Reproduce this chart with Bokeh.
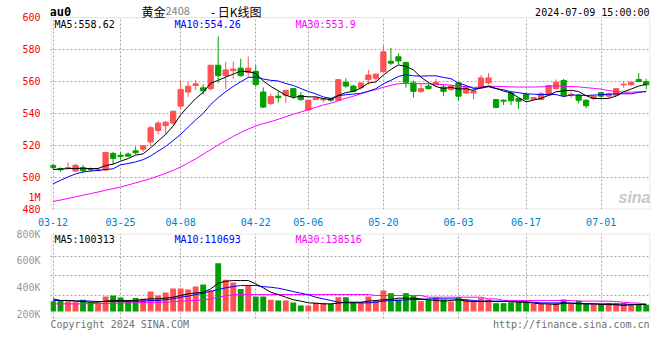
from bokeh.plotting import figure
from bokeh.layouts import column
from bokeh.models import Range1d, FixedTicker, Label, ColumnDataSource, BoxAnnotation
from bokeh.embed import file_html
from bokeh.resources import INLINE

# ---------------- data ----------------
dates = ["03-12", "03-13", "03-14", "03-15", "03-18", "03-19", "03-20", "03-21", "03-22", "03-25",
         "03-26", "03-27", "03-28", "03-29", "04-01", "04-02", "04-03", "04-08", "04-09", "04-10",
         "04-11", "04-12", "04-15", "04-16", "04-17", "04-18", "04-19", "04-22", "04-23", "04-24",
         "04-25", "04-26", "04-29", "04-30", "05-06", "05-07", "05-08", "05-09", "05-10", "05-13",
         "05-14", "05-15", "05-16", "05-17", "05-20", "05-21", "05-22", "05-23", "05-24", "05-27",
         "05-28", "05-29", "05-30", "05-31", "06-03", "06-04", "06-05", "06-06", "06-07", "06-11",
         "06-12", "06-13", "06-14", "06-17", "06-18", "06-19", "06-20", "06-21", "06-24", "06-25",
         "06-26", "06-27", "06-28", "07-01", "07-02", "07-03", "07-04", "07-05", "07-08", "07-09"]

opens = [507.4, 505.6, 505.8, 504.0, 506.0, 505.4, 504.4, 504.6, 515.0, 513.8,
         514.6, 516.6, 517.6, 522.2, 529.3, 532.3, 533.9, 544.5, 553.3, 557.4,
         555.9, 555.4, 570.0, 563.5, 566.6, 568.2, 565.5, 566.2, 553.3, 546.2,
         550.7, 551.3, 555.4, 551.1, 542.1, 548.6, 548.4, 549.2, 548.2, 559.4,
         557.0, 556.0, 561.0, 561.9, 566.0, 572.5, 575.3, 571.7, 559.0, 553.7,
         557.0, 557.8, 556.4, 554.9, 559.0, 552.7, 552.7, 555.8, 559.0, 548.6,
         548.2, 552.7, 549.2, 551.9, 548.8, 548.6, 551.3, 555.4, 560.5, 551.3,
         551.3, 548.2, 549.2, 552.9, 550.7, 551.3, 557.8, 557.8, 561.1, 559.8]
highs = [508.4, 506.2, 509.5, 508.4, 507.8, 506.2, 505.8, 516.0, 516.0, 516.0,
         515.6, 519.3, 520.1, 532.2, 535.4, 535.0, 541.5, 560.2, 559.7, 560.8,
         558.2, 570.0, 588.0, 572.2, 572.3, 574.1, 575.5, 570.0, 556.2, 552.3,
         553.7, 554.7, 555.8, 553.3, 548.2, 550.3, 549.6, 549.6, 561.5, 561.9,
         557.8, 559.0, 567.0, 564.5, 582.3, 580.8, 577.4, 572.3, 560.4, 558.4,
         558.4, 561.5, 558.0, 558.0, 559.4, 556.4, 555.8, 563.9, 565.1, 548.6,
         548.8, 553.9, 549.6, 552.9, 550.2, 553.3, 557.4, 561.1, 561.5, 553.7,
         552.3, 548.6, 551.3, 552.9, 552.9, 555.8, 560.0, 559.8, 565.1, 561.5]
lows = [505.2, 503.6, 505.2, 503.6, 502.7, 503.6, 503.6, 504.2, 508.0, 511.1,
        512.7, 514.2, 516.0, 519.5, 526.8, 527.2, 532.5, 542.6, 550.3, 554.6,
        551.8, 554.3, 559.0, 555.2, 561.5, 562.9, 562.9, 556.4, 543.3, 545.2,
        546.7, 546.6, 549.2, 547.8, 541.5, 548.2, 546.8, 547.2, 547.8, 556.0,
        553.3, 554.8, 558.0, 560.4, 566.0, 570.2, 570.6, 556.0, 549.8, 552.7,
        554.8, 557.4, 550.7, 553.9, 548.2, 551.9, 548.8, 555.4, 558.0, 543.1,
        545.2, 545.2, 542.7, 548.2, 548.4, 548.2, 551.3, 555.0, 550.3, 549.6,
        546.2, 543.1, 548.2, 548.8, 549.6, 550.9, 556.0, 557.0, 559.4, 554.9]
closes = [506.2, 504.8, 506.2, 507.6, 504.2, 504.8, 505.0, 515.6, 511.9, 513.1,
          513.3, 515.4, 519.7, 531.0, 533.9, 534.5, 541.3, 554.8, 556.9, 558.4,
          554.1, 570.0, 563.5, 567.1, 567.6, 563.5, 568.2, 558.0, 543.9, 550.5,
          549.8, 554.3, 550.7, 548.6, 548.2, 549.6, 548.8, 548.2, 561.0, 557.0,
          553.7, 559.0, 563.9, 564.5, 578.4, 571.3, 572.7, 559.4, 553.7, 555.4,
          555.4, 559.4, 553.7, 557.0, 550.7, 556.4, 553.9, 562.1, 562.1, 543.7,
          547.6, 547.8, 547.6, 548.8, 549.8, 552.3, 557.4, 559.4, 550.9, 551.9,
          548.2, 544.7, 550.7, 550.7, 552.3, 555.4, 558.2, 559.4, 559.8, 557.8]

ma5 = [505.0, 505.2, 505.5, 505.6, 505.8, 505.5, 505.6, 507.4, 508.3, 510.1,
       511.8, 513.9, 514.7, 518.5, 522.7, 526.9, 532.1, 539.1, 544.3, 549.2,
       553.1, 558.8, 560.6, 562.6, 564.5, 566.3, 566.0, 564.9, 560.2, 556.8,
       554.1, 551.3, 549.8, 550.8, 550.3, 550.3, 549.2, 548.7, 551.2, 552.9,
       553.7, 555.8, 558.9, 559.6, 563.9, 567.4, 570.2, 569.3, 567.1, 562.5,
       559.3, 556.7, 555.5, 556.2, 555.2, 555.4, 554.3, 556.0, 557.0, 555.6,
       553.9, 552.7, 549.8, 547.1, 548.3, 549.3, 551.2, 553.5, 554.0, 554.4,
       553.6, 551.0, 549.3, 549.2, 549.3, 550.8, 553.5, 555.2, 557.0, 558.1]
ma10 = [496.0, 498.2, 500.3, 502.2, 503.4, 504.0, 504.4, 504.9, 505.4, 507.9,
        508.7, 509.7, 511.1, 513.4, 516.4, 519.3, 523.0, 526.9, 531.4, 535.9,
        540.0, 545.5, 549.8, 553.5, 556.8, 559.7, 562.4, 562.7, 561.4, 560.6,
        560.2, 558.6, 557.4, 555.5, 553.6, 552.2, 550.2, 549.3, 551.0, 551.6,
        552.0, 552.5, 553.8, 555.4, 558.4, 560.6, 563.0, 564.1, 563.4, 563.2,
        563.4, 563.4, 562.4, 561.6, 558.9, 557.4, 555.5, 555.8, 556.6, 555.4,
        554.7, 553.5, 552.9, 552.1, 552.0, 551.6, 551.9, 551.7, 550.5, 551.4,
        551.4, 551.1, 551.4, 551.6, 551.9, 552.2, 552.2, 552.2, 553.1, 553.7]
ma30 = [485.0, 485.9, 486.9, 487.9, 488.9, 489.9, 490.9, 492.0, 493.0, 494.0,
        495.3, 496.6, 497.9, 499.3, 500.9, 502.6, 504.4, 506.5, 509.0, 511.6,
        514.5, 517.4, 520.3, 523.0, 525.6, 528.0, 530.2, 532.1, 533.6, 534.8,
        536.3, 537.9, 539.4, 540.8, 542.3, 543.8, 545.2, 546.3, 547.9, 549.4,
        550.7, 552.2, 553.7, 554.8, 556.3, 557.5, 558.5, 558.7, 558.6, 558.5,
        558.5, 558.2, 557.9, 557.5, 557.0, 556.7, 556.2, 556.4, 557.0, 556.8,
        556.7, 556.5, 556.4, 556.4, 556.4, 556.5, 556.8, 557.2, 556.8, 556.7,
        556.5, 556.0, 555.6, 555.1, 554.2, 553.7, 553.2, 553.2, 553.4, 553.5]

volumes = [298000, 303000, 298000, 290000, 308000, 290000, 278000, 332000, 340000, 325000,
           298000, 322000, 315000, 369000, 340000, 362000, 392000, 392000, 384000, 406000,
           421000, 377000, 579000, 456000, 436000, 389000, 416000, 332000, 332000, 308000,
           303000, 303000, 288000, 266000, 266000, 285000, 285000, 278000, 327000, 327000,
           290000, 290000, 332000, 303000, 377000, 357000, 310000, 357000, 335000, 298000,
           308000, 327000, 310000, 295000, 327000, 310000, 298000, 320000, 310000, 283000,
           283000, 290000, 290000, 290000, 278000, 278000, 278000, 285000, 310000, 278000,
           303000, 278000, 278000, 278000, 285000, 285000, 285000, 278000, 278000, 271000]
vol_ma5 = [315000, 303000, 303000, 298000, 295000, 290000, 290000, 298000, 303000, 303000,
           303000, 303000, 310000, 315000, 315000, 320000, 327000, 340000, 352000, 359000,
           364000, 389000, 431000, 446000, 451000, 451000, 451000, 426000, 397000, 364000,
           347000, 327000, 308000, 298000, 285000, 283000, 278000, 278000, 283000, 290000,
           290000, 290000, 298000, 303000, 308000, 310000, 320000, 320000, 320000, 315000,
           308000, 303000, 298000, 303000, 308000, 298000, 295000, 295000, 298000, 295000,
           295000, 295000, 290000, 290000, 283000, 278000, 278000, 273000, 283000, 283000,
           278000, 278000, 278000, 273000, 273000, 271000, 266000, 271000, 273000, 273000]
vol_ma10 = [303000, 303000, 303000, 300000, 300000, 298000, 295000, 295000, 295000, 295000,
            295000, 298000, 298000, 303000, 303000, 308000, 315000, 327000, 335000, 347000,
            357000, 372000, 384000, 397000, 406000, 414000, 414000, 414000, 406000, 401000,
            394000, 382000, 369000, 357000, 345000, 327000, 315000, 303000, 290000, 285000,
            285000, 285000, 285000, 290000, 298000, 303000, 303000, 308000, 310000, 310000,
            315000, 315000, 315000, 315000, 313000, 308000, 303000, 298000, 298000, 298000,
            298000, 295000, 295000, 293000, 290000, 285000, 285000, 285000, 285000, 283000,
            283000, 278000, 278000, 278000, 278000, 276000, 276000, 273000, 273000, 273000]
vol_ma30 = [278000, 278000, 278000, 278000, 278000, 280000, 280000, 280000, 283000, 283000,
            285000, 285000, 288000, 288000, 290000, 290000, 295000, 298000, 300000, 303000,
            308000, 313000, 327000, 337000, 345000, 347000, 347000, 347000, 347000, 347000,
            347000, 347000, 347000, 347000, 347000, 347000, 347000, 347000, 347000, 347000,
            347000, 347000, 347000, 340000, 340000, 340000, 340000, 340000, 340000, 340000,
            327000, 327000, 327000, 327000, 327000, 327000, 327000, 327000, 315000, 315000,
            303000, 303000, 303000, 303000, 303000, 303000, 303000, 303000, 303000, 303000,
            298000, 298000, 298000, 298000, 298000, 295000, 290000, 285000, 283000, 278000]

tick_dates = ["03-12", "03-25", "04-08", "04-22", "05-06", "05-20", "06-03", "06-17", "07-01"]
price_ticks = [480, 500, 520, 540, 560, 580, 600]
price_grid = [500, 520, 540, 560, 580]
vol_ticks = [200000, 400000, 600000, 800000]
vol_tick_labels = ["200K", "400K", "600K", "800K"]
vol_grid = [340000, 488000, 630000]

title_code = "au0"
title_name = "黄金"
title_month = "2408"
title_kind = "- 日K线图"
stamp = "2024-07-09 15:00:00"
price_ma_texts = ["MA5:558.62", "MA10:554.26", "MA30:553.9"]
vol_ma_texts = ["MA5:100313", "MA10:110693", "MA30:138516"]
side_mark = "1M"

# ---------------- styling / geometry ----------------
RED = "#ff5252"
GREEN = "#00a000"
MA_COLORS = ["#000000", "#0000ff", "#ff00ff"]
GRID = "#a8a8a8"
BORDER = "#9a9a9a"
MONO = "DejaVu Sans Mono"
CJK = "Noto Sans CJK SC"

XR0, XR1 = -0.333, 79.57          # frame spans x = 50 .. 650 px
PPU = 196.0 / 120.0               # price px per unit (600 at y=17, 480 at y=213)
P_TOP = 600 + 17 / PPU            # price frame starts at y=0
VPX = 631500 / 85.0               # volume units per px (800.5K at y=233, 169K at y=318)
V_TOP = 800500
V_BOT = V_TOP - (342 - 233) * VPX  # volume frame ends at y=342

n = len(dates)
xs = list(range(n))
colors = [RED if c >= o else GREEN for o, c in zip(opens, closes)]
src = ColumnDataSource(dict(
    x=xs, o=opens, h=highs, l=lows, c=closes,
    top=[max(o, c) for o, c in zip(opens, closes)],
    bot=[min(o, c) for o, c in zip(opens, closes)],
    color=colors, vol=volumes,
))
tick_idx = [dates.index(d) for d in tick_dates]
VOL_BASE = 221000


def fx(px):
    return XR0 + (px - 50) * (XR1 - XR0) / 600.0


def fy1(py):
    return 600 - (py - 17) / PPU


def fy2(py):
    return V_TOP - (py - 233) * VPX


def style(p):
    p.outline_line_color = None
    p.background_fill_color = "white"
    p.border_fill_color = "white"
    for g in (p.xgrid, p.ygrid):
        g.grid_line_color = GRID
        g.grid_line_dash = "2 2"
        g.grid_line_width = 1
    for ax in (p.xaxis, p.yaxis):
        ax.axis_line_color = None
        ax.major_tick_line_color = None
        ax.minor_tick_line_color = None
        ax.major_label_text_font = MONO
        ax.major_label_text_font_size = "10px"


def limit_vgrid(p, lo, hi):
    try:
        p.xgrid[0].cross_bounds = (lo, hi)
    except Exception:
        p.xgrid.visible = False
        p.segment(x0=tick_idx, x1=tick_idx, y0=[lo] * len(tick_idx), y1=[hi] * len(tick_idx),
                  line_color=GRID, line_dash="2 2", line_width=1)


def add_text(p, text, x, y, color="#000000", size="10px", font=MONO, align="left", st="normal"):
    p.add_layout(Label(x=x, y=y, text=text, text_color=color, text_font_size=size,
                       text_font=font, text_align=align, text_baseline="middle",
                       text_font_style=st))


xr = Range1d(XR0, XR1)

# ---------------- price panel ----------------
p1 = figure(width=652, height=228, x_range=xr, y_range=Range1d(480, P_TOP),
            output_backend="svg", toolbar_location=None, title=None,
            min_border_left=50, min_border_right=2, min_border_top=0, min_border_bottom=15)
style(p1)
p1.xgrid.ticker = FixedTicker(ticks=tick_idx)
p1.ygrid.ticker = FixedTicker(ticks=price_grid)
limit_vgrid(p1, 480, 600)
p1.yaxis.ticker = FixedTicker(ticks=price_ticks + [fy1(200.5)])
p1.yaxis.major_label_overrides = {fy1(200.5): side_mark}
p1.yaxis.major_label_text_color = "#ff0000"
p1.yaxis.major_label_standoff = 4
p1.xaxis.ticker = FixedTicker(ticks=tick_idx)
p1.xaxis.major_label_overrides = {i: d for i, d in zip(tick_idx, tick_dates)}
p1.xaxis.major_label_text_color = "#0080c8"
p1.xaxis.major_label_standoff = 2

p1.add_layout(BoxAnnotation(left=fx(50.5), right=fx(649.5), top=fy1(17.5), bottom=fy1(212.5),
                            fill_color=None, line_color=BORDER, line_width=1))

p1.segment(x0="x", y0="l", x1="x", y1="h", color="color", line_width=1, source=src)
p1.vbar(x="x", width=0.7, top="top", bottom="bot", fill_color="color", line_color="color",
        line_width=1, source=src)
for series, col in zip([ma30, ma10, ma5], [MA_COLORS[2], MA_COLORS[1], MA_COLORS[0]]):
    p1.line(xs, series, color=col, line_width=1)

add_text(p1, title_code, fx(49), fy1(12), size="12px", st="bold")
add_text(p1, title_name, fx(141), fy1(11), size="12px", font=CJK)
add_text(p1, title_month, fx(165), fy1(11), color="#808080", size="11px", font=CJK)
add_text(p1, title_kind, fx(261), fy1(11), size="12px", font=CJK, align="right")
add_text(p1, stamp, fx(649), fy1(12.5), align="right")
for t, c, px in zip(price_ma_texts, MA_COLORS, [54, 174, 295]):
    add_text(p1, t, fx(px), fy1(24), color=c)
add_text(p1, "sina", fx(650), fy1(201), color="#c8c8c8", size="16px",
         font="Liberation Sans", align="right", st="bold italic")

# ---------------- volume panel ----------------
p2 = figure(width=652, height=114, x_range=xr, y_range=Range1d(V_BOT, V_TOP),
            output_backend="svg", toolbar_location=None, title=None,
            min_border_left=50, min_border_right=2, min_border_top=5, min_border_bottom=0)
style(p2)
p2.xaxis.visible = False
p2.xgrid.ticker = FixedTicker(ticks=tick_idx)
p2.ygrid.ticker = FixedTicker(ticks=vol_grid)
limit_vgrid(p2, fy2(318), V_TOP)
p2.yaxis.ticker = FixedTicker(ticks=vol_ticks)
p2.yaxis.major_label_overrides = {v: s for v, s in zip(vol_ticks, vol_tick_labels)}
p2.yaxis.major_label_text_color = "#999999"
p2.yaxis.major_label_standoff = 4

p2.add_layout(BoxAnnotation(left=fx(50.5), right=fx(649.5), top=fy2(233.5), bottom=fy2(317.5),
                            fill_color=None, line_color=BORDER, line_width=1))

p2.vbar(x="x", width=0.78, top="vol", bottom=VOL_BASE, fill_color="color", line_color=None, source=src)
for series, col in zip([vol_ma30, vol_ma10, vol_ma5], [MA_COLORS[2], MA_COLORS[1], MA_COLORS[0]]):
    p2.line(xs, series, color=col, line_width=1)

for t, c, px in zip(vol_ma_texts, MA_COLORS, [54, 174, 295]):
    add_text(p2, t, fx(px), fy2(238.7), color=c)
add_text(p2, "Copyright 2024 SINA.COM", fx(50), fy2(323.5), color="#707070")
add_text(p2, "http://finance.sina.com.cn", fx(649), fy2(323.5), color="#707070", align="right")

layout = column(p1, p2, spacing=0)
open("out.html", "w").write(file_html(layout, INLINE))
